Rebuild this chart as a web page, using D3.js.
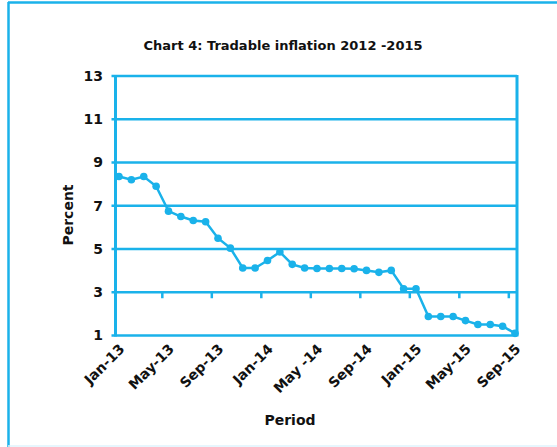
<!DOCTYPE html>
<html><head><meta charset="utf-8">
<script src="https://cdn.jsdelivr.net/npm/d3@7"></script>
<style>body{margin:0;background:#fff}svg{display:block}text{font-family:"DejaVu Sans",sans-serif;font-weight:bold;fill:#111}</style>
</head><body><svg id="c" width="557" height="447"></svg>
<script>
const months = ["Jan-13","Feb-13","Mar-13","Apr-13","May-13","Jun-13","Jul-13","Aug-13","Sep-13","Oct-13","Nov-13","Dec-13",
"Jan-14","Feb-14","Mar-14","Apr-14","May-14","Jun-14","Jul-14","Aug-14","Sep-14","Oct-14","Nov-14","Dec-14",
"Jan-15","Feb-15","Mar-15","Apr-15","May-15","Jun-15","Jul-15","Aug-15","Sep-15"];
const inflation = [8.35,8.2,8.35,7.9,6.75,6.5,6.32,6.26,5.5,5.04,4.12,4.12,
4.47,4.86,4.29,4.12,4.1,4.1,4.1,4.09,4.01,3.92,4.01,3.16,
3.16,1.88,1.88,1.88,1.69,1.51,1.51,1.43,1.1];
const yTicks = [1,3,5,7,9,11,13];
const xLabelIdx = [0,4,8,12,16,20,24,28,32];
const xLabels = ["Jan-13","May-13","Sep-13","Jan-14","May -14","Sep-14","Jan-15","May-15","Sep-15"];
const xMinorTicks = [3.5,7.5,11.5,15.5,19.5,23.5,27.5,31.5];

const blue = "#1ab2ea";
const svg = d3.select("#c");
// outer frame
svg.append("line").attr("x1",8).attr("x2",557).attr("y1",2.5).attr("y2",2.5).attr("stroke",blue).attr("stroke-width",2.5);
svg.append("line").attr("x1",8.5).attr("x2",8.5).attr("y1",2).attr("y2",447).attr("stroke",blue).attr("stroke-width",2.5);
svg.append("line").attr("x1",8).attr("x2",557).attr("y1",446).attr("y2",446).attr("stroke","#dff3fc").attr("stroke-width",1.5);

const x = d3.scaleLinear().domain([0,32]).range([119,515]);
const y = d3.scaleLinear().domain([1,13]).range([335.5,76]);
const L = 115.5, R = 517;

svg.append("text").attr("x",283).attr("y",50).attr("text-anchor","middle").style("font-size","13px")
  .text("Chart 4: Tradable inflation 2012 -2015");

// grid lines
const g = svg.append("g");
g.selectAll("line.grid").data(yTicks).join("line").attr("class","grid")
  .attr("x1",L-4).attr("x2",R).attr("y1",d=>y(d)).attr("y2",d=>y(d))
  .attr("stroke",blue).attr("stroke-width",2.5);
g.append("line").attr("x1",L).attr("x2",L).attr("y1",y(13)-1).attr("y2",y(1)+1).attr("stroke",blue).attr("stroke-width",3);
g.append("line").attr("x1",R).attr("x2",R).attr("y1",y(13)-1).attr("y2",y(1)+1).attr("stroke",blue).attr("stroke-width",3);
g.selectAll("line.mt").data(xMinorTicks).join("line").attr("class","mt")
  .attr("x1",d=>x(d)).attr("x2",d=>x(d)).attr("y1",y(3)).attr("y2",y(3)+6).attr("stroke",blue).attr("stroke-width",2.5);

// y labels
svg.selectAll("text.yl").data(yTicks).join("text").attr("class","yl")
  .attr("x",103).attr("y",d=>y(d)).attr("dy","0.35em").attr("text-anchor","end").style("font-size","14px").text(d=>d);

// x labels
svg.selectAll("text.xl").data(xLabelIdx).join("text").attr("class","xl")
  .attr("transform",(d)=>`translate(${x(d)+3},${y(1)+11}) rotate(-45)`)
  .attr("text-anchor","end").attr("dy","0.35em").style("font-size","14px").text((d,i)=>xLabels[i]);

svg.append("text").attr("transform","translate(68,215) rotate(-90)").attr("text-anchor","middle").attr("dy","0.35em").style("font-size","14px").text("Percent");
svg.append("text").attr("x",290).attr("y",420).attr("text-anchor","middle").attr("dy","0.35em").style("font-size","14px").text("Period");

// line
const data = inflation.map((v,i)=>({i,v}));
svg.append("path").datum(data).attr("fill","none").attr("stroke",blue).attr("stroke-width",2.5)
  .attr("d",d3.line().x(d=>x(d.i)).y(d=>y(d.v)));
svg.selectAll("circle").data(data).join("circle").attr("cx",d=>x(d.i)).attr("cy",d=>y(d.v)).attr("r",3.8).attr("fill",blue);
</script></body></html>
